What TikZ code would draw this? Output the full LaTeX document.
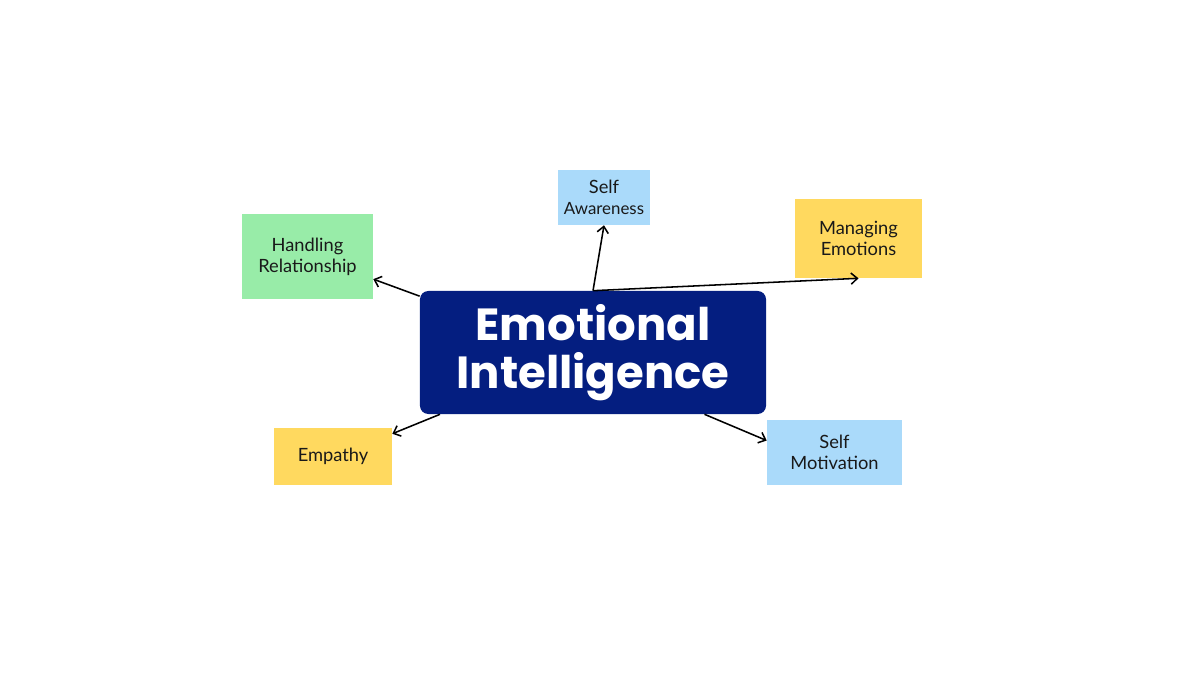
\documentclass[tikz,border=0pt]{standalone}
\usepackage{fontspec}
\setmainfont{Lato}
\newfontfamily\titlefont{Poppins}
\usetikzlibrary{arrows.meta,positioning}
\definecolor{navybox}{RGB}{4,30,128}
\definecolor{skyblue}{RGB}{170,218,250}
\definecolor{sunyellow}{RGB}{255,217,95}
\definecolor{mintgreen}{RGB}{152,236,168}

\begin{document}
\begin{tikzpicture}[x=0.025cm, y=-0.025cm,
  topic/.style={fill=#1, inner sep=0pt, align=center, text=black!90,
    font=\fontsize{13}{15}\selectfont},
  link/.style={line width=1.1pt, -{Straight Barb[length=4.5pt,width=8pt]}}]

\useasboundingbox (0,0) rectangle (1200,675);

% Mappa delle competenze
\node[fill=navybox, rounded corners=6pt, minimum width=8.65cm, minimum height=3.075cm,
  align=center, text=white, font=\titlefont\bfseries\fontsize{32}{34.5}\selectfont]
  (ei) at (593,352.5) {Emotional\\Intelligence};

\node[topic=skyblue, minimum width=2.3cm, minimum height=1.375cm]
  (sa) at (604,197.5) {Self\\{\fontsize{12}{14}\selectfont Awareness}};
\node[topic=sunyellow, minimum width=3.175cm, minimum height=1.975cm]
  (me) at (858.5,238.5) {Managing\\Emotions};
\node[topic=mintgreen, minimum width=3.275cm, minimum height=2.125cm]
  (hr) at (307.5,256.5) {Handling\\Relationship};
\node[topic=sunyellow, minimum width=2.95cm, minimum height=1.425cm]
  (em) at (333,456.5) {Empathy};
\node[topic=skyblue, minimum width=3.375cm, minimum height=1.625cm]
  (sm) at (834.5,452.5) {Self\\Motivation};

\draw[link] (ei.north) -- (sa.south);
\draw[link] (ei.north) -- (me.south);
\draw[link] (ei.162) -- (hr.-19);
\draw[link] (ei.-158) -- (em.21);
\draw[link] (ei.-29.5) -- (sm.170);

\end{tikzpicture}
\end{document}
